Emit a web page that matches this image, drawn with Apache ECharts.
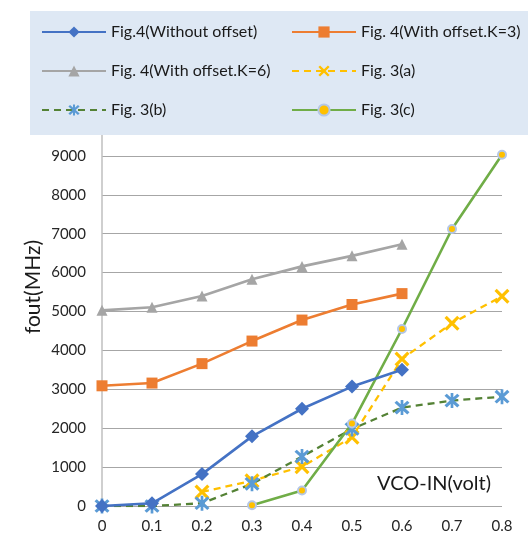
<!DOCTYPE html>
<html><head><meta charset="utf-8">
<script src="https://cdn.jsdelivr.net/npm/echarts@6/dist/echarts.min.js"></script>
<style>html,body{margin:0;padding:0;background:#fff}#c{width:528px;height:542px}</style>
</head><body><div id="c"></div>
<script>
var xValues = [0, 0.1, 0.2, 0.3, 0.4, 0.5, 0.6, 0.7, 0.8];
var xTickLabels = ['0', '0.1', '0.2', '0.3', '0.4', '0.5', '0.6', '0.7', '0.8'];
var fig4NoOffset = [0, 70, 820, 1790, 2500, 3070, 3500, null, null];
var fig4K3 = [3090, 3160, 3660, 4240, 4780, 5180, 5460, null, null];
var fig4K6 = [5030, 5110, 5400, 5830, 6160, 6430, 6730, null, null];
var fig3a = [null, null, 360, 650, 1010, 1770, 3780, 4700, 5390];
var fig3b = [0, 0, 70, 570, 1270, 1980, 2530, 2710, 2810];
var fig3c = [null, null, null, 20, 400, 2120, 4550, 7120, 9030];
var seriesNames = ['Fig.4(Without offset)', 'Fig. 4(With offset.K=3)', 'Fig. 4(With offset.K=6)', 'Fig. 3(a)', 'Fig. 3(b)', 'Fig. 3(c)'];

function pairs(arr){ var o=[]; arr.forEach(function(v,i){ if(v!==null) o.push([xValues[i], v]); }); return o; }

var FONT = 'Lato';
var xPath = 'path://M0,1.5L1.5,0L5,3.5L8.5,0L10,1.5L6.5,5L10,8.5L8.5,10L5,6.5L1.5,10L0,8.5L3.5,5Z';
var starPath = 'path://M0,1.5L1.5,0L5,3.5L8.5,0L10,1.5L6.5,5L10,8.5L8.5,10L5,6.5L1.5,10L0,8.5L3.5,5Z M4.1,-0.5L5.9,-0.5L5.9,10.5L4.1,10.5Z';

var chart = echarts.init(document.getElementById('c'), null, {renderer:'canvas'});
var legendText = {fontFamily: FONT, fontSize: 16, color: '#1a1a1a'};
chart.setOption({
  animation: false,
  textStyle: {fontFamily: FONT},
  grid: {left: 102, right: 26, top: 117, bottom: 36},
  graphic: [
    {type: 'rect', z: 3, shape: {x: 30, y: 11, width: 498, height: 124}, style: {fill: '#DEE8F4'}},
    {type: 'text', z: 5, x: 33, y: 287, rotation: Math.PI/2, style: {text: 'fout(MHz)', font: '21px ' + FONT, fill: '#1a1a1a', textAlign: 'center', textVerticalAlign: 'middle'}},
    {type: 'text', z: 5, x: 377, y: 484, style: {text: 'VCO-IN(volt)', font: '20px ' + FONT, fill: '#1a1a1a', textAlign: 'left', textVerticalAlign: 'middle'}}
  ],
  legend: [
    {z: 6, orient: 'vertical', left: 41, top: 24, itemGap: 23, itemWidth: 64, itemHeight: 14, textStyle: legendText, padding: 0,
     data: [seriesNames[0], seriesNames[2], seriesNames[4]]},
    {z: 6, orient: 'vertical', left: 291, top: 24, itemGap: 23, itemWidth: 64, itemHeight: 14, textStyle: legendText, padding: 0,
     data: [seriesNames[1], seriesNames[3], seriesNames[5]]}
  ],
  xAxis: {
    type: 'value', min: 0, max: 0.8, interval: 0.1,
    axisLine: {show: false}, axisTick: {show: false}, splitLine: {show: false},
    axisLabel: {margin: 13, fontFamily: FONT, fontSize: 15, color: '#262626',
      formatter: function(v){ var i = Math.round(v*10); return xTickLabels[i] !== undefined ? xTickLabels[i] : ''; }}
  },
  yAxis: {
    type: 'value', min: 0, max: 10000, interval: 1000,
    axisLine: {show: true, lineStyle: {color: '#BFBFBF', width: 1.5}},
    axisTick: {show: false},
    splitLine: {show: true, lineStyle: {color: '#A6A6A6', width: 1.2}},
    axisLabel: {margin: 16, fontFamily: FONT, fontSize: 15, color: '#262626',
      formatter: function(v){ return v >= 10000 ? '' : String(v); }}
  },
  series: [
    {name: seriesNames[0], type: 'line', data: pairs(fig4NoOffset), symbol: 'diamond', symbolSize: 14,
     lineStyle: {color: '#4472C4', width: 2.6}, itemStyle: {color: '#4472C4'}, z: 4},
    {name: seriesNames[1], type: 'line', data: pairs(fig4K3), symbol: 'rect', symbolSize: 11,
     lineStyle: {color: '#ED7D31', width: 2.6}, itemStyle: {color: '#ED7D31'}},
    {name: seriesNames[2], type: 'line', data: pairs(fig4K6), symbol: 'triangle', symbolSize: 11,
     lineStyle: {color: '#A5A5A5', width: 2.6}, itemStyle: {color: '#A5A5A5'}},
    {name: seriesNames[3], type: 'line', data: pairs(fig3a), symbol: xPath, symbolSize: 15,
     lineStyle: {color: '#FFC000', width: 2.3, type: [7, 5]}, itemStyle: {color: '#FFC000'}},
    {name: seriesNames[4], type: 'line', data: pairs(fig3b), symbol: starPath, symbolSize: 15,
     lineStyle: {color: '#548235', width: 2.3, type: [7, 5]}, itemStyle: {color: '#5B9BD5'}, z: 3},
    {name: seriesNames[5], type: 'line', data: pairs(fig3c), symbol: 'circle', symbolSize: 8,
     lineStyle: {color: '#70AD47', width: 2.6}, itemStyle: {color: '#FFC000', borderColor: '#B4C7E7', borderWidth: 2}}
  ]
});
</script></body></html>
